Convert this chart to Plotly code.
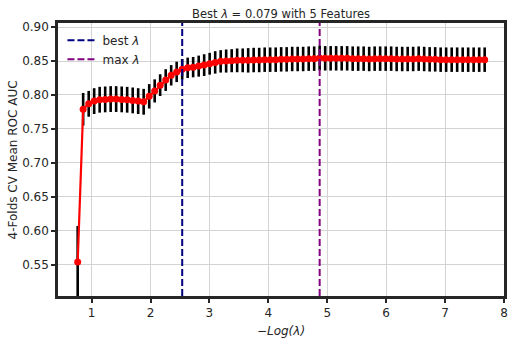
import numpy as np
import plotly.graph_objects as go

# -log(lambda) grid of the cross-validated path
neg_log_lambda = [
    0.764, 0.857, 0.951, 1.044, 1.137, 1.231, 1.324, 1.417, 1.511, 1.604,
    1.698, 1.791, 1.884, 1.978, 2.071, 2.164, 2.258, 2.351, 2.444, 2.538,
    2.631, 2.724, 2.818, 2.911, 3.004, 3.098, 3.191, 3.284, 3.378, 3.471,
    3.565, 3.658, 3.751, 3.845, 3.938, 4.031, 4.125, 4.218, 4.311, 4.405,
    4.498, 4.591, 4.685, 4.778, 4.871, 4.965, 5.058, 5.151, 5.245, 5.338,
    5.432, 5.525, 5.618, 5.712, 5.805, 5.898, 5.992, 6.085, 6.178, 6.272,
    6.365, 6.458, 6.552, 6.645, 6.738, 6.832, 6.925, 7.018, 7.112, 7.205,
    7.299, 7.392, 7.485, 7.579, 7.672,
]

# mean ROC AUC over the 4 folds
mean_auc = [
    0.554, 0.779, 0.787, 0.791, 0.793, 0.7935, 0.794, 0.794, 0.7935, 0.793,
    0.792, 0.791, 0.790, 0.798, 0.806, 0.8145, 0.822, 0.829, 0.834, 0.838,
    0.840, 0.841, 0.8425, 0.844, 0.846, 0.848, 0.8495, 0.850, 0.8505, 0.851,
    0.851, 0.851, 0.8515, 0.8515, 0.852, 0.852, 0.852, 0.8525, 0.8525, 0.853,
    0.853, 0.853, 0.8535, 0.8535, 0.8545, 0.854, 0.854, 0.854, 0.854, 0.854,
    0.8535, 0.8535, 0.8535, 0.853, 0.8535, 0.8535, 0.8535, 0.8535, 0.853, 0.853,
    0.853, 0.853, 0.8535, 0.853, 0.8525, 0.8525, 0.852, 0.852, 0.852, 0.852,
    0.852, 0.852, 0.852, 0.852, 0.852,
]

# standard deviation of ROC AUC over the folds
std_auc = [
    0.053, 0.024, 0.019, 0.019, 0.019, 0.019, 0.019, 0.019, 0.019, 0.019,
    0.019, 0.019, 0.019, 0.018, 0.017, 0.016, 0.016, 0.015, 0.015, 0.015,
    0.015, 0.015, 0.0155, 0.016, 0.016, 0.0165, 0.0165, 0.017, 0.017, 0.0175,
    0.0175, 0.018, 0.018, 0.018, 0.018, 0.018, 0.018, 0.018, 0.018, 0.018,
    0.018, 0.018, 0.018, 0.018, 0.018, 0.018, 0.018, 0.018, 0.018, 0.018,
    0.018, 0.018, 0.018, 0.018, 0.018, 0.018, 0.018, 0.018, 0.018, 0.018,
    0.018, 0.018, 0.018, 0.018, 0.018, 0.018, 0.018, 0.018, 0.018, 0.018,
    0.018, 0.018, 0.018, 0.018, 0.018,
]

best_lambda = 0.079
n_features = 5

best_x = -np.log(best_lambda)
max_x = neg_log_lambda[int(np.argmax(mean_auc))]

y_range = [0.504, 0.906]
x_range = [0.43, 8.0001]

TEXT = "#262626"
FONT = "DejaVu Sans"

fig = go.Figure()

# error bars (drawn below the mean curve)
fig.add_trace(go.Scatter(
    x=neg_log_lambda, y=mean_auc, mode="none",
    error_y=dict(type="data", array=std_auc, visible=True,
                 color="black", thickness=2.6, width=0),
    showlegend=False, hoverinfo="skip",
))

# mean curve
fig.add_trace(go.Scatter(
    x=neg_log_lambda, y=mean_auc, mode="lines+markers",
    line=dict(color="red", width=2.2),
    marker=dict(color="red", size=7),
    showlegend=False,
))

# vertical reference lines
for xv, col in [(best_x, "#000080"), (max_x, "#800080")]:
    fig.add_shape(type="line", x0=xv, x1=xv, xref="x", y0=0, y1=1, yref="paper",
                  line=dict(color=col, width=2, dash="7px,3px"), layer="above")

# legend entries for the reference lines
fig.add_trace(go.Scatter(x=[None], y=[None], mode="lines", name="best <i>λ</i>",
                         line=dict(color="#000080", width=2, dash="7px,3px")))
fig.add_trace(go.Scatter(x=[None], y=[None], mode="lines", name="max <i>λ</i>",
                         line=dict(color="#800080", width=2, dash="7px,3px")))

axis_common = dict(
    showline=True, linecolor=TEXT, linewidth=2.5, mirror=True,
    showgrid=True, gridcolor="#d3d3d3", gridwidth=1,
    zeroline=False, ticks="outside", ticklen=4, tickwidth=1.5, tickcolor=TEXT,
    tickfont=dict(family=FONT, size=12, color=TEXT),
    automargin=False,
)

fig.update_xaxes(range=x_range, tickmode="array", tickvals=[1, 2, 3, 4, 5, 6, 7, 8],
                 title=dict(text="<i>−Log(λ)</i>", font=dict(family=FONT, size=12, color=TEXT),
                            standoff=8),
                 **axis_common)
fig.update_yaxes(range=y_range, tickmode="array",
                 tickvals=[0.55, 0.60, 0.65, 0.70, 0.75, 0.80, 0.85, 0.90],
                 ticktext=["0.55", "0.60", "0.65", "0.70", "0.75", "0.80", "0.85", "0.90"],
                 **axis_common)

# y-axis label
fig.add_annotation(text="4-Folds CV Mean ROC AUC", xref="paper", yref="paper",
                   x=-0.101, y=0.5, xanchor="center", yanchor="middle",
                   textangle=-90, showarrow=False,
                   font=dict(family=FONT, size=12, color=TEXT))

fig.update_layout(
    width=515, height=344,
    margin=dict(l=58, r=11, t=23, b=48),
    paper_bgcolor="white", plot_bgcolor="white",
    title=dict(text=f"Best <i>λ</i> = {best_lambda} with {n_features} Features",
               x=0.5, xref="paper", xanchor="center", y=0.96, yanchor="middle",
               font=dict(family=FONT, size=11.5, color=TEXT)),
    legend=dict(x=0.01, y=0.99, xanchor="left", yanchor="top",
                bgcolor="rgba(255,255,255,0)", borderwidth=0,
                font=dict(family=FONT, size=12, color=TEXT),
                itemwidth=30, tracegroupgap=0),
    showlegend=True,
)

fig.write_html("out.html")
